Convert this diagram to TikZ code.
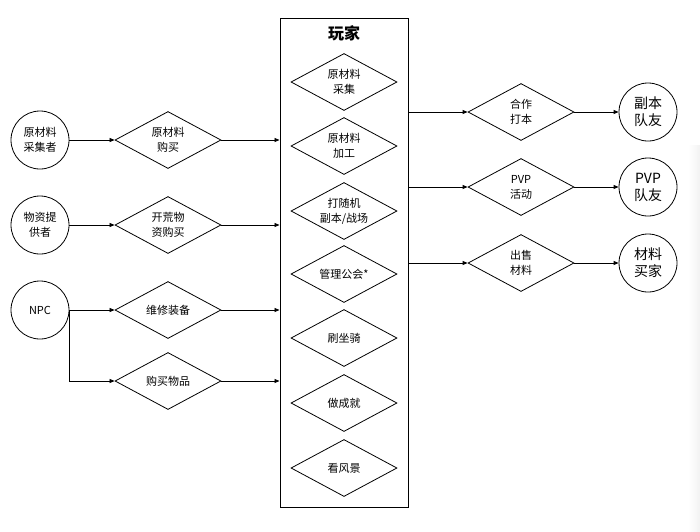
\documentclass[tikz,border=0pt]{standalone}
\usepackage{fontspec}
\setmainfont{Noto Sans CJK SC}
\usepackage{tikz}
\usetikzlibrary{positioning,shapes.geometric,arrows.meta}
\tikzstyle{actor} = [draw, circle, line width=0.8pt, minimum size=58pt, inner sep=0pt, align=center, font=\fontsize{11}{15}\selectfont]
\tikzstyle{partner} = [actor, font=\fontsize{14}{17}\selectfont]
\tikzstyle{activity} = [draw, diamond, aspect=2, line width=0.8pt, minimum width=106pt, minimum height=57pt, inner sep=0pt, align=center, font=\fontsize{11}{15}\selectfont]
\tikzstyle{flow} = [line width=0.8pt, -{Triangle[length=5pt,width=4pt]}]

\begin{document}
\begin{tikzpicture}[x=1pt, y=-1pt]
			\useasboundingbox (0,0) rectangle (700,531);
			\shade[left color=white, right color=gray!10] (688,145) rectangle (700,531);
			% player box
			\node[draw, line width=1pt, minimum width=128pt, minimum height=489pt, inner sep=0pt] (player) at (344,262.5) {};
			\node[font=\fontsize{16}{18}\selectfont\bfseries] (title) at (344,33) {玩家};
			\node[activity] (gather) at (344,82) {原材料\\采集};
			\node[activity] (craft) at (344,146) {原材料\\加工};
			\node[activity] (dungeon) at (344,211) {打随机\\副本/战场};
			\node[activity] (guild) at (344,274) {管理公会*};
			\node[activity] (mount) at (344,338) {刷坐骑};
			\node[activity] (achieve) at (344,403) {做成就};
			\node[activity] (scenery) at (344,468) {看风景};
			% suppliers
			\node[actor] (gatherer) at (40,140) {原材料\\采集者};
			\node[actor] (supplier) at (40,225) {物资提\\供者};
			\node[actor] (npc) at (40,310) {NPC};
			\node[activity] (buymat) at (168,140) {原材料\\购买};
			\node[activity] (buyraw) at (168,225) {开荒物\\资购买};
			\node[activity] (repair) at (168,310) {维修装备};
			\node[activity] (shop) at (168,381) {购买物品};
			\draw[flow] (gatherer) -- (buymat);
			\draw[flow] (supplier) -- (buyraw);
			\draw[flow] (npc) -- (repair);
			\draw[flow] (npc.east) |- (shop);
			\draw[flow] (buymat) -- (buymat -| player.west);
			\draw[flow] (buyraw) -- (buyraw -| player.west);
			\draw[flow] (repair) -- (repair -| player.west);
			\draw[flow] (shop) -- (shop -| player.west);
			% partners
			\node[activity] (coop) at (521,112) {合作\\打本};
			\node[activity] (pvp) at (521,187) {PVP\\活动};
			\node[activity] (sell) at (521,263) {出售\\材料};
			\node[partner] (mates) at (648,112) {副本\\队友};
			\node[partner] (pvpmates) at (648,187) {PVP\\队友};
			\node[partner] (buyer) at (648,263) {材料\\买家};
			\draw[flow] (coop -| player.east) -- (coop);
			\draw[flow] (pvp -| player.east) -- (pvp);
			\draw[flow] (sell -| player.east) -- (sell);
			\draw[flow] (coop) -- (mates);
			\draw[flow] (pvp) -- (pvpmates);
			\draw[flow] (sell) -- (buyer);
		\end{tikzpicture}
\end{document}
